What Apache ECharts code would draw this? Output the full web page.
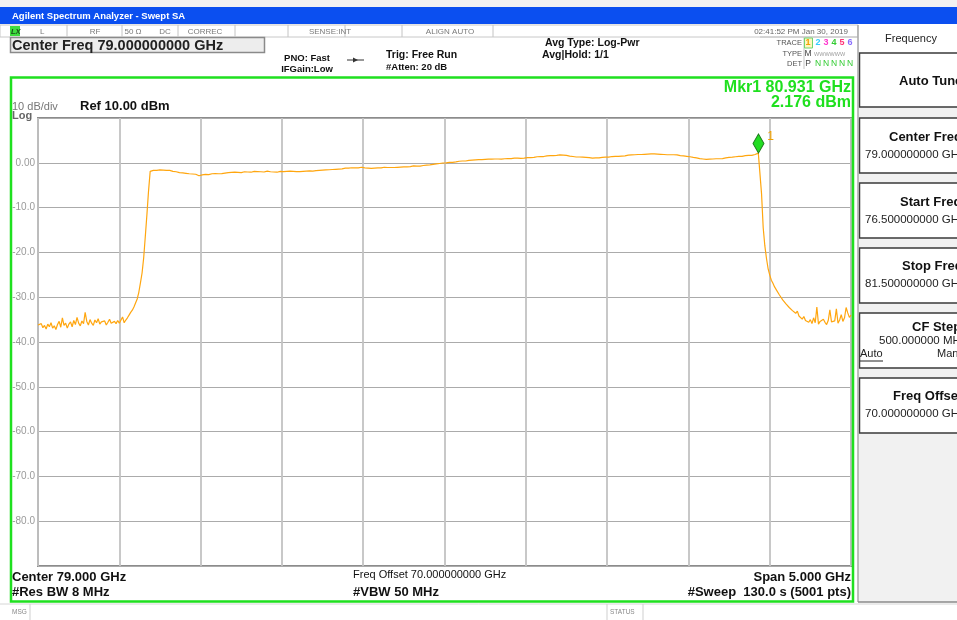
<!DOCTYPE html>
<html>
<head>
<meta charset="utf-8">
<title>Swept SA</title>
<script src="https://cdn.jsdelivr.net/npm/echarts@6/dist/echarts.min.js"></script>
<style>
  html, body { margin: 0; padding: 0; background: #ffffff; }
  #chart { width: 957px; height: 620px; }
</style>
</head>
<body>
<div id="chart"></div>
<script>
// Sweep settings (displayed frequencies include the 70 GHz offset)
const sweepStartGHz = 76.5;
const sweepStopGHz = 81.5;
const freqOffsetGHz = 70.0;
const refLevelDbm = 10;
const dbPerDiv = 10;
const bottomLevelDbm = -90;

// Trace 1 levels (dBm), one value per 10 MHz sweep bin, 76.50 .. 81.50 GHz
const traceDbm = [
  -36.2,-36.5,-35.9,-36.8,-36.3,-37.1,-36.0,-36.6,-35.7,-36.9,
  -36.4,-37.2,-36.1,-35.4,-36.7,-34.6,-36.3,-35.8,-36.9,-36.0,
  -35.5,-36.6,-35.2,-36.1,-34.5,-35.8,-36.4,-35.3,-35.9,-33.4,
  -35.4,-36.2,-35.0,-35.8,-36.3,-35.1,-35.7,-34.8,-36.0,-35.5,
  -35.9,-35.3,-36.2,-35.6,-34.9,-35.8,-36.1,-35.4,-35.9,-35.2,
  -35.8,-36.0,-34.4,-35.7,-35.1,
  -34.6,-34.0,-33.4,-32.9,-32.2,-31.3,-30.4,-28.9,-26.8,-24.6,
  -21.2,-16.4,-11.5,-6.2,-1.9,
  -1.8,-1.7,-1.6,-1.7,-1.55,-1.6,-1.5,-1.65,-1.6,-1.7,
  -1.75,-1.7,-1.85,-1.9,-1.8,-2.0,-2.1,-2.2,-2.1,-2.25,
  -2.2,-2.35,-2.3,-2.45,-2.4,-2.5,-2.6,-2.55,-2.75,-2.9,
  -2.8,-2.7,-2.75,-2.6,-2.55,-2.65,-2.5,-2.45,-2.55,-2.4,
  -2.35,-2.45,-2.3,-2.4,-2.25,-2.3,-2.35,-2.2,-2.3,-2.15,
  -2.2,-2.1,-2.25,-2.15,-2.05,-2.2,-2.1,-2.0,-2.15,-2.05,
  -1.95,-2.1,-2.0,-1.9,-2.05,-1.95,-1.85,-2.0,-1.9,-2.05,
  -1.95,-1.85,-1.9,-2.0,-1.9,-2.05,-1.95,-2.1,-2.0,-1.9,
  -2.05,-1.95,-2.0,-1.9,-1.95,-1.85,-2.0,-1.9,-1.8,-1.95,
  -1.85,-1.95,-1.8,-1.9,-2.0,-1.85,-1.9,-1.8,-1.75,-1.85,
  -1.7,-1.75,-1.6,-1.7,-1.55,-1.65,-1.5,-1.6,-1.45,-1.55,
  -1.45,-1.5,-1.35,-1.45,-1.3,-1.4,-1.25,-1.35,-1.3,-1.2,
  -1.3,-1.2,-1.25,-1.1,-1.2,-1.15,-1.05,-1.15,-1.1,-1.0,
  -1.1,-1.15,-1.05,-1.2,-1.1,-1.25,-1.15,-1.2,-1.1,-1.15,
  -1.05,-1.15,-1.1,-1.0,-1.1,-1.05,-1.15,-1.05,-0.95,-1.05,
  -0.95,-1.0,-0.9,-0.95,-0.85,-0.9,-0.8,-0.9,-0.75,-0.85,
  -0.8,-0.7,-0.8,-0.75,-0.65,-0.75,-0.7,-0.6,-0.65,-0.5,
  -0.55,-0.45,-0.4,-0.35,-0.3,-0.25,-0.3,-0.15,-0.2,-0.05,
  -0.1,0.0,0.05,0.1,0.15,0.1,0.25,0.2,0.3,0.35,
  0.3,0.4,0.45,0.4,0.5,0.55,0.5,0.6,0.55,0.65,
  0.6,0.7,0.75,0.7,0.8,0.75,0.7,0.8,0.85,0.8,
  0.75,0.85,0.9,0.85,0.9,0.8,0.95,0.9,0.85,0.95,
  1.0,0.95,1.0,1.05,0.95,1.05,1.1,1.0,1.1,1.05,
  1.1,1.15,1.2,1.15,1.25,1.2,1.3,1.35,1.3,1.4,
  1.45,1.4,1.5,1.55,1.5,1.6,1.65,1.6,1.7,1.65,
  1.7,1.75,1.65,1.7,1.6,1.65,1.55,1.5,1.45,1.4,
  1.35,1.3,1.25,1.3,1.2,1.25,1.15,1.2,1.1,1.15,
  1.1,1.05,1.15,1.1,1.05,1.1,1.15,1.2,1.15,1.25,
  1.3,1.25,1.35,1.4,1.35,1.45,1.5,1.45,1.55,1.5,
  1.6,1.55,1.65,1.7,1.65,1.75,1.7,1.8,1.75,1.85,
  1.9,1.85,1.95,1.9,2.0,1.95,2.05,2.0,1.95,2.0,
  1.9,1.95,2.0,1.9,1.95,1.85,1.9,1.8,1.85,1.8,
  1.75,1.8,1.7,1.75,1.65,1.6,1.65,1.55,1.5,1.45,
  1.4,1.35,1.3,1.2,1.15,1.1,1.05,0.95,0.9,0.85,
  0.8,0.75,0.7,0.8,0.7,0.85,0.8,0.9,0.95,0.9,
  1.0,0.95,1.05,1.1,1.15,1.2,1.15,1.25,1.3,1.35,
  1.4,1.45,1.5,1.45,1.55,1.6,1.55,1.65,1.7,1.65,
  1.8,1.85,1.95,2.15,
  2.0,-7.0,-14.5,-18.5,-21.3,-23.6,-25.0,-26.2,-26.9,-27.7,
  -28.3,-28.6,-29.5,-29.6,-30.6,-30.5,-31.5,-31.2,-32.3,-31.9,
  -33.0,-32.6,-33.6,-33.1,-34.2,-33.8,-34.9,-34.3,-35.2,
  -34.8,-35.6,-35.0,-35.9,-34.6,-35.7,-32.2,
  -36.0,-35.4,-35.8,-34.9,-35.6,-36.1,-35.2,-32.8,-35.5,-35.9,
  -35.3,-32.6,-35.8,-35.1,-33.9,-35.4,-34.6,-32.3,-33.5,-34.5,-34.0
];

// Marker 1 readout
const markerFreqGHz = 80.931;
const markerDbm = 2.176;

// Instrument header / footer readouts
const statusCells = ['L', 'RF', '50 \u03a9', 'DC', 'CORREC', 'SENSE:INT', 'ALIGN AUTO'];
const traceNumbers = ['1', '2', '3', '4', '5', '6'];
const traceColors = ['#f0a000', '#33ccff', '#ff33cc', '#33cc33', '#ff3377', '#8a6cff'];
const softkeyTitles = ['Auto Tune', 'Center Freq', 'Start Freq', 'Stop Freq', 'CF Step', 'Freq Offset'];

const centerGHz = (sweepStartGHz + sweepStopGHz) / 2;
const spanGHz = sweepStopGHz - sweepStartGHz;
const binGHz = spanGHz / (traceDbm.length - 1);
const traceData = traceDbm.map((v, i) => [sweepStartGHz + i * binGHz, v]);

const FONT = '"Liberation Sans", Arial, Helvetica, sans-serif';
const GREEN = '#1fe01f';

function txt(x, y, s, font, fill, align, extra) {
  return Object.assign({
    type: 'text', z: 20, silent: true,
    style: {
      text: s, x: x, y: y, font: font + ' ' + FONT, fill: fill || '#111',
      textAlign: align || 'left', textVerticalAlign: 'middle',
      align: align || 'left', verticalAlign: 'middle'
    }
  }, extra || {});
}
function rect(x, y, w, h, fill, stroke, lw, z) {
  return { type: 'rect', z: z || 5, silent: true, shape: { x: x, y: y, width: w, height: h },
    style: { fill: fill || 'none', stroke: stroke || null, lineWidth: lw || 0 } };
}
function line(x1, y1, x2, y2, stroke, lw, z) {
  return { type: 'line', z: z || 6, silent: true, shape: { x1: x1, y1: y1, x2: x2, y2: y2 },
    style: { stroke: stroke, lineWidth: lw || 1 } };
}

const g = [];
// window strip and title bar
g.push(rect(0, 0, 957, 7, '#f2f2f2', null, 0, 1));
g.push(rect(0, 7, 957, 17, '#0b4ff0', null, 0, 2));
g.push(txt(12, 16, 'Agilent Spectrum Analyzer - Swept SA', 'bold 9.5px', '#ffffff'));

// status row
g.push(rect(0, 25, 858, 12, '#ffffff', '#c8c8c8', 1, 2));
g.push(rect(10, 26, 10, 10, '#3fdc3f', null, 0, 3));
g.push(txt(11, 31.5, 'LX', 'italic bold 7.5px', '#1a4a1a'));
[67, 122, 178, 235, 288, 345, 402, 493].forEach(x => g.push(line(x, 25, x, 37, '#c4c4c4', 1)));
const cellX = [40, 95, 133, 165, 205, 330, 450];
statusCells.forEach((s, i) => g.push(txt(cellX[i], 31.5, s, '8px', '#7a7a7a', i === 0 ? 'left' : 'center')));
g.push(txt(848, 31.5, '02:41:52 PM Jan 30, 2019', '8px', '#666', 'right'));

// center frequency entry box
g.push(rect(10.5, 37.5, 254, 15, '#ededed', '#8a8a8a', 1.5, 3));
g.push(txt(12, 45.5, 'Center Freq ' + centerGHz.toFixed(9) + ' GHz', 'bold 14.5px', '#222'));

// acquisition settings
g.push(txt(307, 58, 'PNO: Fast', 'bold 9.5px', '#111', 'center'));
g.push(txt(307, 69, 'IFGain:Low', 'bold 9.5px', '#111', 'center'));
g.push(line(347, 60, 364, 60, '#333', 1));
g.push({ type: 'polygon', z: 7, silent: true, shape: { points: [[353, 57.5], [358, 60], [353, 62.5]] }, style: { fill: '#333' } });
g.push(txt(386, 55, 'Trig: Free Run', 'bold 10.5px', '#111'));
g.push(txt(386, 67, '#Atten: 20 dB', 'bold 9.5px', '#111'));
g.push(txt(545, 43, 'Avg Type: Log-Pwr', 'bold 10.5px', '#111'));
g.push(txt(542, 55, 'Avg|Hold: 1/1', 'bold 10.5px', '#111'));

// trace / type / detector legend
g.push(line(760, 37, 858, 37, '#c4c4c4', 1));
g.push(line(804, 37, 804, 69, '#c4c4c4', 1));
g.push(txt(802, 43, 'TRACE', '7.5px', '#555', 'right'));
g.push(txt(802, 54, 'TYPE', '7.5px', '#555', 'right'));
g.push(txt(802, 64, 'DET', '7.5px', '#555', 'right'));
const trX = [808, 818, 826, 834, 842, 850];
g.push(rect(804.5, 38, 8, 10, '#fff6c0', '#6fd66f', 1, 6));
traceNumbers.forEach((n, i) => g.push(txt(trX[i], 43, n, 'bold 9px', traceColors[i], 'center')));
g.push(txt(808, 54, 'M', '8.5px', '#444', 'center'));
g.push(txt(814, 54, 'WWWWWW', '5.5px', '#9a9a9a', 'left'));
g.push(txt(808, 64, 'P', '8.5px', '#444', 'center'));
trX.slice(1).forEach(x => g.push(txt(x, 64, 'N', '8.5px', '#33cc33', 'center')));

// softkey panel
g.push(rect(858, 25, 99, 577, '#f1f1f1', null, 0, 2));
g.push(line(858, 25, 858, 602, '#a8a8a8', 1.5));
g.push(rect(859, 25, 98, 28, '#ffffff', null, 0, 3));
g.push(txt(911, 39, 'Frequency', '11px', '#222', 'center'));
const keyTop = [53, 118, 183, 248, 313, 378];
const keyH = [54, 55, 55, 55, 55, 55];
keyTop.forEach((t, i) => g.push(rect(859.5, t, 110, keyH[i], '#ffffff', '#3a3a3a', 1.5, 4)));
g.push(line(858, 602, 957, 602, '#8a8a8a', 1.5));
g.push(txt(899, 81, softkeyTitles[0], 'bold 13px', '#111'));
g.push(txt(889, 137, softkeyTitles[1], 'bold 13px', '#111'));
g.push(txt(865, 155, centerGHz.toFixed(9) + ' GHz', '11.5px', '#222'));
g.push(txt(900, 202, softkeyTitles[2], 'bold 13px', '#111'));
g.push(txt(865, 220, sweepStartGHz.toFixed(9) + ' GHz', '11.5px', '#222'));
g.push(txt(902, 266, softkeyTitles[3], 'bold 13px', '#111'));
g.push(txt(865, 284, sweepStopGHz.toFixed(9) + ' GHz', '11.5px', '#222'));
g.push(txt(912, 327, softkeyTitles[4], 'bold 13px', '#111'));
g.push(txt(879, 341, (spanGHz * 100).toFixed(6) + ' MHz', '11.5px', '#222'));
g.push(txt(860, 354, 'Auto', '11px', '#222'));
g.push(line(860, 361, 883, 361, '#222', 1, 21));
g.push(txt(937, 354, 'Man', '11px', '#222'));
g.push(txt(893, 396, softkeyTitles[5], 'bold 13px', '#111'));
g.push(txt(865, 414, freqOffsetGHz.toFixed(9) + ' GHz', '11.5px', '#222'));

// measurement frame
g.push(rect(11, 77.5, 842, 524, null, GREEN, 2.5, 8));

// scale and marker readouts
g.push(txt(12, 107, dbPerDiv + ' dB/div', '11px', '#777'));
g.push(txt(12, 116, 'Log', 'bold 11px', '#666'));
g.push(txt(80, 106, 'Ref ' + refLevelDbm.toFixed(2) + ' dBm', 'bold 13px', '#111'));
g.push(txt(851, 88, 'Mkr1 ' + markerFreqGHz.toFixed(3) + ' GHz', 'bold 16px', GREEN, 'right'));
g.push(txt(851, 103, markerDbm.toFixed(3) + ' dBm', 'bold 16px', GREEN, 'right'));

// footer readouts
g.push(txt(12, 577, 'Center ' + centerGHz.toFixed(3) + ' GHz', 'bold 13px', '#111'));
g.push(txt(12, 592, '#Res BW 8 MHz', 'bold 13px', '#111'));
g.push(txt(353, 575, 'Freq Offset ' + freqOffsetGHz.toFixed(9) + ' GHz', '11px', '#111'));
g.push(txt(353, 592, '#VBW 50 MHz', 'bold 13px', '#111'));
g.push(txt(851, 577, 'Span ' + spanGHz.toFixed(3) + ' GHz', 'bold 13px', '#111', 'right'));
g.push(txt(851, 592, '#Sweep  130.0 s (' + (traceDbm.length * 10 - 9) + ' pts)', 'bold 13px', '#111', 'right'));

// message / status bar
g.push(line(0, 604, 957, 604, '#d6d6d6', 1));
g.push(line(30, 604, 30, 620, '#cfcfcf', 1));
g.push(line(607, 604, 607, 620, '#cfcfcf', 1));
g.push(line(643, 604, 643, 620, '#cfcfcf', 1));
g.push(txt(12, 612, 'MSG', '6.5px', '#888'));
g.push(txt(610, 612, 'STATUS', '6.5px', '#888'));

const chart = echarts.init(document.getElementById('chart'), null, { renderer: 'canvas' });
chart.setOption({
  animation: false,
  backgroundColor: '#ffffff',
  grid: {
    left: 38, top: 118, width: 813, height: 448,
    show: true, backgroundColor: '#ffffff', borderColor: '#8c8c8c', borderWidth: 2,
    containLabel: false, outerBoundsMode: 'none'
  },
  xAxis: {
    type: 'value', min: sweepStartGHz, max: sweepStopGHz, interval: spanGHz / 10,
    axisLabel: { show: false }, axisTick: { show: false }, axisLine: { show: false },
    splitLine: { show: true, lineStyle: { color: '#c2c2c2', width: 1.8 } }
  },
  yAxis: {
    type: 'value', min: bottomLevelDbm, max: refLevelDbm, interval: dbPerDiv,
    axisTick: { show: false }, axisLine: { show: false },
    splitLine: { show: true, lineStyle: { color: '#ababab', width: 1 } },
    axisLabel: {
      margin: 3, color: '#9a9a9a', fontSize: 10, fontFamily: FONT,
      formatter: v => (v === refLevelDbm || v === bottomLevelDbm) ? '' : (v === 0 ? '0.00' : v.toFixed(1))
    }
  },
  series: [
    {
      name: 'Trace 1', type: 'line', data: traceData, showSymbol: false, silent: true,
      lineStyle: { color: '#ffa60f', width: 1.2 }, z: 3
    },
    {
      name: 'Mkr1', type: 'scatter', data: [[markerFreqGHz, markerDbm]], silent: true,
      symbol: 'diamond', symbolSize: [11, 19], symbolOffset: [0, '-50%'],
      itemStyle: { color: '#22dd22', borderColor: '#1f7a1f', borderWidth: 1, opacity: 1 },
      label: { show: true, formatter: '1', position: 'right', offset: [-2, -7], color: '#f0a000', fontSize: 12, fontFamily: FONT },
      z: 5
    }
  ],
  graphic: { elements: g }
});
</script>
</body>
</html>
